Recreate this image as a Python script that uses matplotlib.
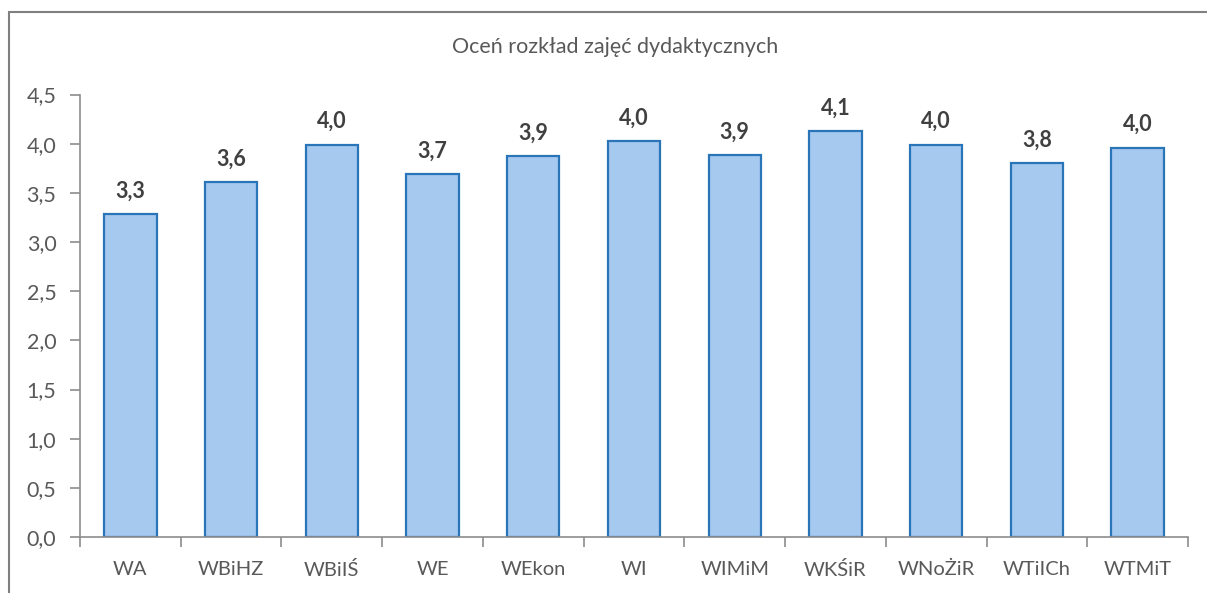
import matplotlib
matplotlib.use("Agg")
import matplotlib.pyplot as plt
from matplotlib.patches import Rectangle
from matplotlib.ticker import FuncFormatter, FixedLocator
import numpy as np

plt.rcParams['font.family'] = ['Lato', 'DejaVu Sans']

title = "Oceń rozkład zajęć dydaktycznych"
categories = ["WA", "WBiHZ", "WBiIŚ", "WE", "WEkon", "WI", "WIMiM", "WKŚiR", "WNoŻiR", "WTiICh", "WTMiT"]
values = [3.28, 3.61, 3.99, 3.69, 3.87, 4.03, 3.88, 4.13, 3.99, 3.80, 3.96]
y_ticks = [0.0, 0.5, 1.0, 1.5, 2.0, 2.5, 3.0, 3.5, 4.0, 4.5]

text_col = "#595959"
axis_col = "#8c8c8c"

fig = plt.figure(figsize=(12.07, 5.93), dpi=100)
ax = fig.add_axes([80/1207, 1-537/593, 1108/1207, (537-94.5)/593])

x = np.arange(len(categories))
bars = ax.bar(x, values, width=0.52, color="#a6c9f0", edgecolor="#2a74b8", linewidth=1.6, zorder=2)

for xi, v in zip(x, values):
    ax.annotate(f"{v:.1f}".replace(".", ","), (xi, v), xytext=(0, 9), textcoords="offset points",
                ha="center", va="bottom", fontsize=15.5, fontweight="bold", color="#404040")

ax.set_xlim(-0.5, len(categories) - 0.5)
ax.set_ylim(0, 4.5)
ax.yaxis.set_major_locator(FixedLocator(y_ticks))
ax.yaxis.set_major_formatter(FuncFormatter(lambda v, p: f"{v:.1f}".replace(".", ",")))
ax.set_xticks(x)
ax.set_xticklabels(categories)
ax.xaxis.set_minor_locator(FixedLocator(np.arange(-0.5, len(categories), 1.0)))
ax.tick_params(axis="x", which="major", length=0, pad=17, labelsize=14.5, labelcolor=text_col)
ax.tick_params(axis="x", which="minor", length=7, width=1.2, color=axis_col, direction="out")
ax.tick_params(axis="y", length=7, width=1.2, color=axis_col, labelsize=15.5, labelcolor=text_col, pad=10)

for s in ["top", "right"]:
    ax.spines[s].set_visible(False)
for s in ["left", "bottom"]:
    ax.spines[s].set_color(axis_col)
    ax.spines[s].set_linewidth(1.2)

fig.text(615/1207, 1-47/593, title, ha="center", va="center", fontsize=15.5, color=text_col)

fig.patches.append(Rectangle((9/1207, -0.05), 1.2, 1-12/593 + 0.05, transform=fig.transFigure,
                             fill=False, edgecolor="#808080", linewidth=1.5))

fig.savefig("out.png", dpi=100)
